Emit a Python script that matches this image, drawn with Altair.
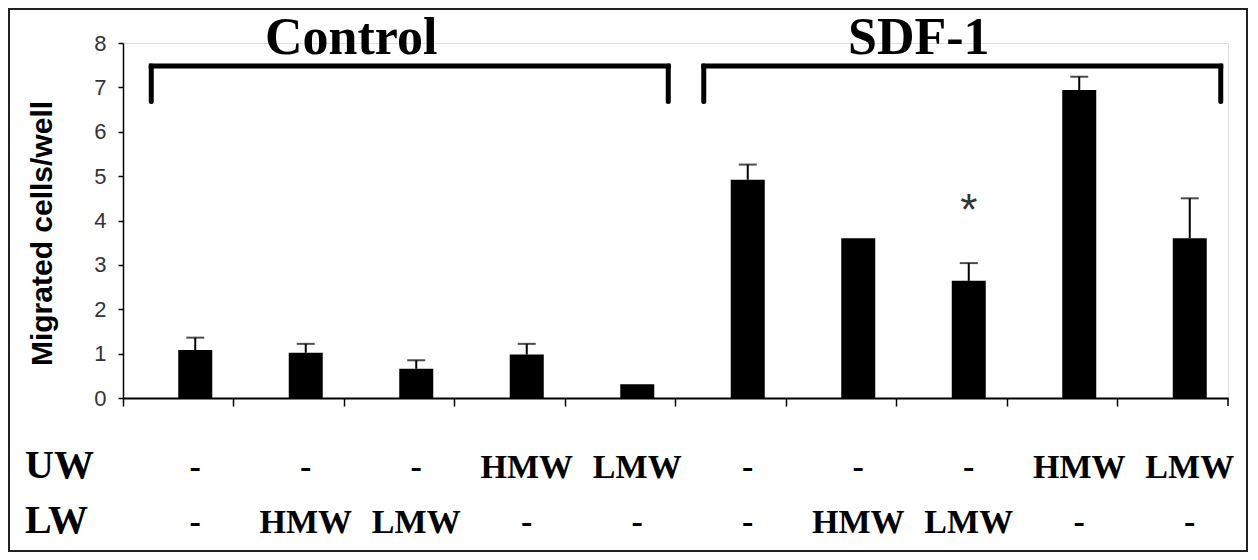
import altair as alt
import pandas as pd

# ---- data ----
categories = ["C1", "C2", "C3", "C4", "C5", "S1", "S2", "S3", "S4", "S5"]
values = [1.08, 1.02, 0.66, 0.98, 0.31, 4.92, 3.60, 2.64, 6.94, 3.60]
err_top = [1.36, 1.22, 0.85, 1.22, None, 5.26, None, 3.04, 7.24, 4.50]
uw_labels = ["-", "-", "-", "HMW", "LMW", "-", "-", "-", "HMW", "LMW"]
lw_labels = ["-", "HMW", "LMW", "-", "-", "-", "HMW", "LMW", "-", "-"]

groups = ["Control", "SDF-1"]
group_start = ["C1", "S1"]
group_end = ["C5", "S5"]
bracket_top = [7.48, 7.48]
bracket_leg = [6.68, 6.68]

star_cat = ["S3"]
star_y = [3.9]

# ---- layout ----
W, H = 1105, 355
PAD = {"left": 115, "top": 35, "right": 22, "bottom": 154}
SERIF = "Liberation Serif"
SANS = "Liberation Sans"

df = pd.DataFrame({"cat": categories, "value": values, "err": err_top,
                   "uw": uw_labels, "lw": lw_labels})
br = pd.DataFrame({"group": groups, "start": group_start, "end": group_end,
                   "top": bracket_top, "leg": bracket_leg})
star = pd.DataFrame({"cat": star_cat, "y": star_y, "t": ["*"]})

xscale = alt.Scale(domain=categories, paddingInner=0, paddingOuter=0)
yscale = alt.Scale(domain=[0, 8])

x_axis = alt.Axis(labels=False, title=None, bandPosition=0, tickSize=8,
                  tickWidth=1.5, tickColor="black", domainColor="black",
                  domainWidth=2, grid=False)
y_axis = alt.Axis(values=list(range(9)), tickSize=5, tickColor="black",
                  tickWidth=1.5, domainColor="black", domainWidth=1.5,
                  labelFont=SANS, labelFontSize=22, labelColor="#333",
                  labelPadding=12, grid=False,
                  title="Migrated cells/well", titleFont=SANS,
                  titleFontSize=30, titleFontWeight="bold", titleColor="black",
                  titleX=-72, titleY=190, titleAngle=270, titleAlign="center",
                  titleBaseline="alphabetic")

X = alt.X("cat:N", scale=xscale, axis=x_axis)
base = alt.Chart(df)

bars = base.mark_bar(color="black", width=34, xOffset=17).encode(
    x=X, y=alt.Y("value:Q", scale=yscale, axis=y_axis))

errs = base.transform_filter("datum.err != null").mark_rule(
    color="black", strokeWidth=2, xOffset=17).encode(
    x=alt.X("cat:N", scale=xscale), y=alt.Y("value:Q", scale=yscale), y2="err:Q")

caps = base.transform_filter("datum.err != null").mark_tick(
    color="black", thickness=2, size=18, xOffset=17, orient="horizontal").encode(
    x=alt.X("cat:N", scale=xscale), y=alt.Y("err:Q", scale=yscale))

end_tick = alt.Chart(pd.DataFrame({"a": [0]})).mark_rule(
    color="black", strokeWidth=1.5).encode(
    x=alt.value(W), y=alt.value(H), y2=alt.value(H + 8))

bchart = alt.Chart(br)
b_top = bchart.mark_rule(color="black", strokeWidth=5, strokeCap="square",
                         xOffset=-27, x2Offset=48).encode(
    x=alt.X("start:N", scale=xscale), x2="end:N",
    y=alt.Y("top:Q", scale=yscale))
b_left = bchart.mark_rule(color="black", strokeWidth=5, strokeCap="round",
                          xOffset=-27).encode(
    x=alt.X("start:N", scale=xscale), y=alt.Y("top:Q", scale=yscale), y2="leg:Q")
b_right = bchart.mark_rule(color="black", strokeWidth=5, strokeCap="round",
                           xOffset=48).encode(
    x=alt.X("end:N", scale=xscale), y=alt.Y("top:Q", scale=yscale), y2="leg:Q")

t_control = alt.Chart(pd.DataFrame({"cat": ["C3"], "t": [groups[0]]})).mark_text(
    font=SERIF, fontSize=52, fontWeight="bold", color="black", dx=-48,
    align="center", baseline="alphabetic").encode(
    x=alt.X("cat:N", scale=xscale), y=alt.value(11), text="t:N")
t_sdf = alt.Chart(pd.DataFrame({"cat": ["S3"], "t": [groups[1]]})).mark_text(
    font=SERIF, fontSize=52, fontWeight="bold", color="black", dx=-33,
    align="center", baseline="alphabetic").encode(
    x=alt.X("cat:N", scale=xscale), y=alt.value(11), text="t:N")

stars = alt.Chart(star).mark_text(font=SANS, fontSize=44, color="#333",
                                  xOffset=17, baseline="alphabetic").encode(
    x=alt.X("cat:N", scale=xscale), y=alt.Y("y:Q", scale=yscale), text="t:N")

uw_txt = base.mark_text(font=SERIF, fontSize=34, fontWeight="bold",
                        color="black", xOffset=17, baseline="alphabetic").encode(
    x=alt.X("cat:N", scale=xscale), y=alt.value(435), text="uw:N")
lw_txt = base.mark_text(font=SERIF, fontSize=34, fontWeight="bold",
                        color="black", xOffset=17, baseline="alphabetic").encode(
    x=alt.X("cat:N", scale=xscale), y=alt.value(490), text="lw:N")

row_df = pd.DataFrame({"name": ["UW", "LW"], "yy": [435, 490]})
row_names = alt.Chart(row_df).mark_text(font=SERIF, fontSize=40,
                                        fontWeight="bold", color="black",
                                        align="left", baseline="alphabetic").encode(
    x=alt.value(-98), y=alt.Y("yy:Q", scale=None), text="name:N")

frame = alt.Chart(pd.DataFrame({"a": [0]})).mark_rect(
    fill="transparent", stroke="#222", strokeWidth=2).encode(
    x=alt.value(-114), x2=alt.value(1124), y=alt.value(-34), y2=alt.value(508))

chart = alt.layer(
    frame, bars, errs, caps, end_tick, b_top, b_left, b_right,
    t_control, t_sdf, stars, uw_txt, lw_txt, row_names
).properties(
    width=W, height=H,
    autosize=alt.AutoSizeParams(type="none"),
    padding=PAD,
).configure_view(stroke=None).configure(background="white")

chart.save("out.html", embed_options={"renderer": "svg", "actions": False})
